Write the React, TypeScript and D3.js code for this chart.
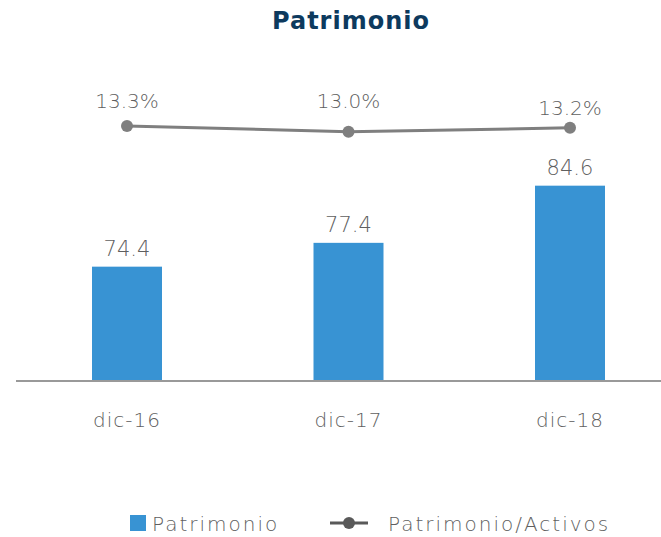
import React from "react";
import * as d3 from "d3";

const categories = ["dic-16", "dic-17", "dic-18"];
const patrimonio = [74.4, 77.4, 84.6];
const ratio = [13.3, 13.0, 13.2];
const ratioLabels = ["13.3%", "13.0%", "13.2%"];
const title = "Patrimonio";
const legendBar = "Patrimonio";
const legendLine = "Patrimonio/Activos";

const W = 661;
const H = 537;
const FONT = "'DejaVu Sans', sans-serif";

export default function App() {
  const x = d3.scalePoint<string>().domain(categories).range([127, 570]);
  const baseY = 381;
  const topY = 112.5;
  const yBar = d3.scaleLinear().domain([60, 60 + (baseY - topY) / 7.94]).range([baseY, topY]);
  const yLine = d3.scaleLinear().domain([0, 14]).range([baseY, topY]);
  const barW = 70;
  const line = d3
    .line<number>()
    .x((_, i) => x(categories[i])!)
    .y((d) => yLine(d));
  const txt = "#5f5f5f";
  const labelOffsets = [0, 0, 7];

  return (
    <svg width={W} height={H} style={{ position: "absolute", left: 0, top: 0, background: "#fff" }} fontFamily={FONT}>
      <text x={351} y={29} textAnchor="middle" fontSize={24} fontWeight="bold" fill="#0d3a5e" letterSpacing={1}>
        {title}
      </text>
      {patrimonio.map((v, i) => (
        <g key={i}>
          <rect x={x(categories[i])! - barW / 2} y={yBar(v)} width={barW} height={baseY - yBar(v)} fill="#3893d3" />
          <text x={x(categories[i])} y={yBar(v) - 11} textAnchor="middle" fontSize={21} fill={txt} fontWeight={300}>
            {v.toFixed(1)}
          </text>
        </g>
      ))}
      <line x1={16} x2={661} y1={baseY} y2={baseY} stroke="#999" strokeWidth={2} />
      <path d={line(ratio)!} fill="none" stroke="#7f7f7f" strokeWidth={3} />
      {ratio.map((v, i) => (
        <g key={i}>
          <circle cx={x(categories[i])} cy={yLine(v)} r={6} fill="#7f7f7f" />
          <text x={x(categories[i])} y={yLine(14) - 5 + labelOffsets[i]} textAnchor="middle" fontSize={20} fill={txt} fontWeight={300}>
            {ratioLabels[i]}
          </text>
        </g>
      ))}
      {categories.map((c) => (
        <text key={c} x={x(c)} y={427} textAnchor="middle" fontSize={20} fill={txt} fontWeight={300} letterSpacing={1}>
          {c}
        </text>
      ))}
      <rect x={130} y={515} width={16} height={16} fill="#3893d3" />
      <text x={152} y={531} fontSize={20} fill={txt} fontWeight={300} letterSpacing={2}>
        {legendBar}
      </text>
      <line x1={330} x2={368} y1={523} y2={523} stroke="#595959" strokeWidth={3} />
      <circle cx={349} cy={523} r={6} fill="#595959" />
      <text x={388} y={531} fontSize={20} fill={txt} fontWeight={300} letterSpacing={2}>
        {legendLine}
      </text>
    </svg>
  );
}
